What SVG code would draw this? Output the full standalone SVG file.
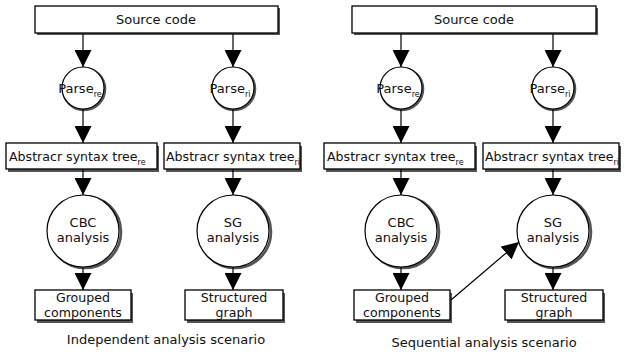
<svg xmlns="http://www.w3.org/2000/svg" width="631" height="357" viewBox="0 0 631 357">
<style>
  .bx{fill:#fff;stroke:#000;stroke-width:1.3}
  .sh{fill:#555}
  .cs{fill:none;stroke:#555;stroke-width:2.6}
  .ci{fill:#fff;stroke:#000;stroke-width:1.2}
  .t{font-family:"DejaVu Sans",sans-serif;font-size:13px;fill:#111;text-anchor:middle}
  .a{font-family:"DejaVu Sans",sans-serif;font-size:12.6px;fill:#111}
  .g{font-size:12.6px}
  .s{font-size:8px}
  .cap{font-family:"DejaVu Sans",sans-serif;font-size:13px;fill:#111;text-anchor:middle}
  .c{stroke:#000;stroke-width:1.2;fill:none}
</style>
<defs>
  <marker id="ah" markerUnits="userSpaceOnUse" markerWidth="18" markerHeight="17" refX="17" refY="8.5" orient="auto" viewBox="0 0 18 17">
    <path d="M0,0 L17,8.5 L0,17 Z" fill="#000"/>
  </marker>
</defs>

<!-- LEFT PANEL -->
<g id="src1">
  <rect class="sh" x="37" y="8" width="243" height="27"/>
  <rect class="bx" x="35" y="6" width="243" height="27"/>
  <text class="t" x="156" y="24">Source code</text>
</g>
<g id="parse_re1">
  <circle class="cs" cx="84" cy="89" r="21"/>
  <circle class="ci" cx="83" cy="88" r="21"/>
  <text class="t" x="80" y="93">Parse<tspan class="s" dy="4">re</tspan></text>
</g>
<g id="parse_ri1">
  <circle class="cs" cx="234" cy="89" r="21"/>
  <circle class="ci" cx="233" cy="88" r="21"/>
  <text class="t" x="230" y="93">Parse<tspan class="s" dy="4">ri</tspan></text>
</g>
<g id="ast_re1">
  <rect class="sh" x="8" y="146" width="151" height="26"/>
  <rect class="bx" x="6" y="143" width="151" height="26"/>
  <text class="a" x="9" y="161">Abstracr syntax tree<tspan class="s" dy="4">re</tspan></text>
</g>
<g id="ast_ri1">
  <rect class="sh" x="166" y="146" width="136" height="26"/>
  <rect class="bx" x="164" y="143" width="136" height="26"/>
  <text class="a" x="166" y="161">Abstracr syntax tree<tspan class="s" dy="4">ri</tspan></text>
</g>
<g id="cbc1">
  <circle class="cs" cx="85" cy="232" r="36"/>
  <circle class="ci" cx="83" cy="231" r="36"/>
  <text class="t" x="83" y="227">CBC</text>
  <text class="t" x="83" y="242">analysis</text>
</g>
<g id="sg1">
  <circle class="cs" cx="235" cy="232" r="36"/>
  <circle class="ci" cx="233" cy="231" r="36"/>
  <text class="t" x="233" y="227">SG</text>
  <text class="t" x="233" y="242">analysis</text>
</g>
<g id="grp1">
  <rect class="sh" x="37" y="293" width="96" height="30"/>
  <rect class="bx" x="35" y="290" width="96" height="30"/>
  <text class="t g" x="83" y="302">Grouped</text>
  <text class="t g" x="83" y="317">components</text>
</g>
<g id="str1">
  <rect class="sh" x="187" y="293" width="98" height="30"/>
  <rect class="bx" x="185" y="290" width="98" height="30"/>
  <text class="t g" x="234" y="302">Structured</text>
  <text class="t g" x="234" y="317">graph</text>
</g>
<text class="cap" x="166" y="344">Independent analysis scenario</text>

<!-- RIGHT PANEL -->
<g id="src2">
  <rect class="sh" x="354" y="8" width="244" height="27"/>
  <rect class="bx" x="352" y="6" width="244" height="27"/>
  <text class="t" x="474" y="24">Source code</text>
</g>
<g id="parse_re2">
  <circle class="cs" cx="402" cy="89" r="21"/>
  <circle class="ci" cx="401" cy="88" r="21"/>
  <text class="t" x="398" y="93">Parse<tspan class="s" dy="4">re</tspan></text>
</g>
<g id="parse_ri2">
  <circle class="cs" cx="554" cy="89" r="21"/>
  <circle class="ci" cx="553" cy="88" r="21"/>
  <text class="t" x="550" y="93">Parse<tspan class="s" dy="4">ri</tspan></text>
</g>
<g id="ast_re2">
  <rect class="sh" x="326" y="146" width="151" height="26"/>
  <rect class="bx" x="324" y="143" width="151" height="26"/>
  <text class="a" x="327" y="161">Abstracr syntax tree<tspan class="s" dy="4">re</tspan></text>
</g>
<g id="ast_ri2">
  <rect class="sh" x="485" y="146" width="136" height="26"/>
  <rect class="bx" x="483" y="143" width="136" height="26"/>
  <text class="a" x="485" y="161">Abstracr syntax tree<tspan class="s" dy="4">ri</tspan></text>
</g>
<g id="cbc2">
  <circle class="cs" cx="403" cy="232" r="36"/>
  <circle class="ci" cx="401" cy="231" r="36"/>
  <text class="t" x="401" y="227">CBC</text>
  <text class="t" x="401" y="242">analysis</text>
</g>
<g id="sg2">
  <circle class="cs" cx="555" cy="232" r="36"/>
  <circle class="ci" cx="553" cy="231" r="36"/>
  <text class="t" x="553" y="227">SG</text>
  <text class="t" x="553" y="242">analysis</text>
</g>
<g id="grp2">
  <rect class="sh" x="356" y="293" width="96" height="30"/>
  <rect class="bx" x="354" y="290" width="96" height="30"/>
  <text class="t g" x="402" y="302">Grouped</text>
  <text class="t g" x="402" y="317">components</text>
</g>
<g id="str2">
  <rect class="sh" x="507" y="293" width="98" height="30"/>
  <rect class="bx" x="505" y="290" width="98" height="30"/>
  <text class="t g" x="554" y="302">Structured</text>
  <text class="t g" x="554" y="317">graph</text>
</g>
<text class="cap" x="484" y="347">Sequential analysis scenario</text>

<g id="connectors">
  <line class="c" x1="83" y1="34" x2="83" y2="67" marker-end="url(#ah)"/>
  <line class="c" x1="233" y1="34" x2="233" y2="67" marker-end="url(#ah)"/>
  <line class="c" x1="83" y1="109" x2="83" y2="143" marker-end="url(#ah)"/>
  <line class="c" x1="233" y1="109" x2="233" y2="143" marker-end="url(#ah)"/>
  <line class="c" x1="83" y1="169" x2="83" y2="195" marker-end="url(#ah)"/>
  <line class="c" x1="233" y1="169" x2="233" y2="195" marker-end="url(#ah)"/>
  <line class="c" x1="83" y1="267" x2="83" y2="290" marker-end="url(#ah)"/>
  <line class="c" x1="233" y1="267" x2="233" y2="290" marker-end="url(#ah)"/>

  <line class="c" x1="401" y1="34" x2="401" y2="67" marker-end="url(#ah)"/>
  <line class="c" x1="553" y1="34" x2="553" y2="67" marker-end="url(#ah)"/>
  <line class="c" x1="401" y1="109" x2="401" y2="143" marker-end="url(#ah)"/>
  <line class="c" x1="553" y1="109" x2="553" y2="143" marker-end="url(#ah)"/>
  <line class="c" x1="401" y1="169" x2="401" y2="195" marker-end="url(#ah)"/>
  <line class="c" x1="553" y1="169" x2="553" y2="195" marker-end="url(#ah)"/>
  <line class="c" x1="401" y1="267" x2="401" y2="290" marker-end="url(#ah)"/>
  <line class="c" x1="553" y1="267" x2="553" y2="290" marker-end="url(#ah)"/>
  <line class="c" x1="451" y1="300" x2="519" y2="242" marker-end="url(#ah)"/>
</g>
</svg>
